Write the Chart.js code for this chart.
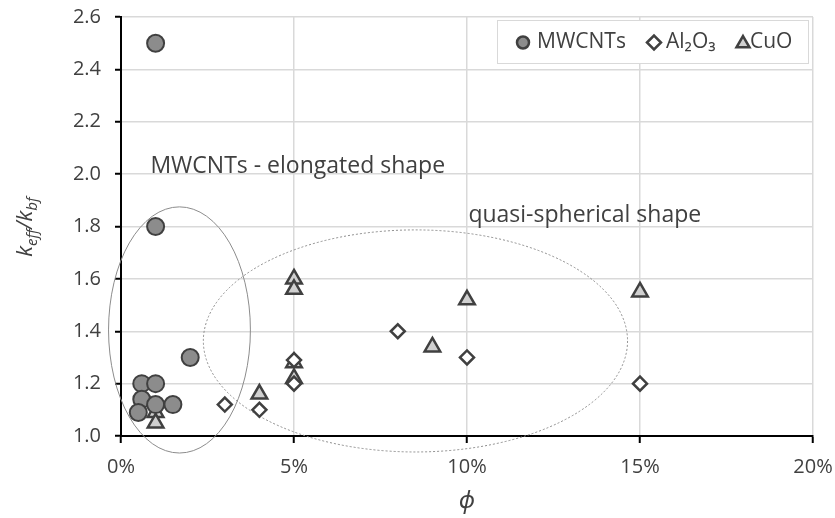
<!DOCTYPE html>
<html>
<head>
<meta charset="utf-8">
<script src="https://cdn.jsdelivr.net/npm/chart.js@4.4.1/dist/chart.umd.min.js"></script>
<style>
  html, body { margin: 0; padding: 0; background: #ffffff; }
  #wrap { width: 835px; height: 518px; position: relative; }
</style>
</head>
<body>
<div id="wrap"><canvas id="c" width="835" height="518"></canvas></div>
<script>
// Volume fraction (%) and conductivity ratio for each nanofluid
const mwcntPhi   = [1, 1, 2, 0.6, 1, 0.6, 1, 1.5, 0.5];
const mwcntRatio = [2.5, 1.8, 1.3, 1.2, 1.2, 1.14, 1.12, 1.12, 1.09];

const aluminaPhi   = [3, 4, 5, 5, 8, 10, 15];
const aluminaRatio = [1.12, 1.1, 1.29, 1.2, 1.4, 1.3, 1.2];

const cuoPhi   = [1, 1, 4, 5, 5, 5, 5, 9, 10, 15];
const cuoRatio = [1.09, 1.05, 1.16, 1.6, 1.56, 1.28, 1.22, 1.34, 1.52, 1.55];

const xTicks = [0, 5, 10, 15, 20];
const yTicks = [1.0, 1.2, 1.4, 1.6, 1.8, 2.0, 2.2, 2.4, 2.6];

const seriesNames = ['MWCNTs', 'Al₂O₃', 'CuO'];

const FONT = '"Open Sans", "Noto Sans", sans-serif';
const TEXT = '#404040';
const EDGE = '#404040';

const toPoints = (xs, ys) => xs.map((x, i) => ({ x: x, y: ys[i] }));

// Grouping outlines and their captions, in data units
const groupOutlines = [
  { cx: 1.69, cy: 1.405, rx: 2.05, ry: 0.47, dash: [], color: '#8c8c8c' },
  { cx: 8.51, cy: 1.363, rx: 6.13, ry: 0.424, dash: [2, 2], color: '#8c8c8c' }
];
const groupCaptions = [
  { x: 0.85, y: 2.004, text: 'MWCNTs - elongated shape' },
  { x: 10.04, y: 1.817, text: 'quasi-spherical shape' }
];

// Keep the plot area exactly where the layout padding puts it
const noEdgePadding = s => {
  s.paddingTop = 0; s.paddingBottom = 0; s.paddingLeft = 0; s.paddingRight = 0;
};

const overlayPlugin = {
  id: 'overlay',
  beforeDatasetsDraw(chart) {
    const { ctx, scales: { x, y } } = chart;
    ctx.save();
    groupOutlines.forEach(g => {
      const cx = x.getPixelForValue(g.cx);
      const cy = y.getPixelForValue(g.cy);
      const rx = Math.abs(x.getPixelForValue(g.cx + g.rx) - cx);
      const ry = Math.abs(y.getPixelForValue(g.cy + g.ry) - cy);
      ctx.beginPath();
      ctx.setLineDash(g.dash);
      ctx.strokeStyle = g.color;
      ctx.lineWidth = 1;
      ctx.ellipse(cx, cy, rx, ry, 0, 0, Math.PI * 2);
      ctx.stroke();
    });
    ctx.setLineDash([]);
    ctx.fillStyle = TEXT;
    ctx.font = '23px ' + FONT;
    ctx.textBaseline = 'alphabetic';
    ctx.textAlign = 'left';
    groupCaptions.forEach(c => {
      ctx.fillText(c.text, x.getPixelForValue(c.x), y.getPixelForValue(c.y));
    });
    ctx.restore();
  },
  afterDraw(chart) {
    const { ctx, chartArea } = chart;
    ctx.save();
    // Legend box, top right
    const bx = 497, by = 20, bw = 311, bh = 43;
    ctx.fillStyle = '#ffffff';
    ctx.fillRect(bx, by, bw, bh);
    ctx.strokeStyle = '#d9d9d9';
    ctx.lineWidth = 1;
    ctx.strokeRect(bx + 0.5, by + 0.5, bw, bh);
    const cy = by + bh / 2;
    const items = [
      { mx: 523, tx: 537, r: 6, ds: chart.data.datasets[0] },
      { mx: 654, tx: 666, r: 7, ds: chart.data.datasets[1] },
      { mx: 743, tx: 750, r: 7.5, ds: chart.data.datasets[2] }
    ];
    ctx.font = '21px ' + FONT;
    ctx.textBaseline = 'middle';
    ctx.textAlign = 'left';
    items.forEach(it => {
      ctx.fillStyle = it.ds.backgroundColor;
      ctx.strokeStyle = it.ds.borderColor;
      ctx.lineWidth = 2.5;
      Chart.helpers.drawPoint(ctx, {
        pointStyle: it.ds.pointStyle,
        radius: it.r,
        borderWidth: 2.5,
        rotation: 0
      }, it.mx, it.ds.pointStyle === 'triangle' ? cy + 2 : cy + 1);
      ctx.fillStyle = TEXT;
      ctx.fillText(it.ds.label, it.tx, cy + 1);
    });

    // Axis titles
    ctx.fillStyle = TEXT;
    ctx.textBaseline = 'alphabetic';
    // x title: phi
    ctx.font = 'italic 24px ' + FONT;
    ctx.textAlign = 'center';
    ctx.fillText('ϕ', (chartArea.left + chartArea.right) / 2, 508);
    // y title: k_eff / k_bf, rotated
    ctx.translate(32, 227);
    ctx.rotate(-Math.PI / 2);
    const parts = [
      { t: 'k', sub: false }, { t: 'eff', sub: true },
      { t: '/', sub: false },
      { t: 'k', sub: false }, { t: 'bf', sub: true }
    ];
    const setF = p => { ctx.font = 'italic ' + (p.sub ? '15px ' : '22px ') + FONT; };
    let total = 0;
    parts.forEach(p => { setF(p); total += ctx.measureText(p.t).width; });
    let px = -total / 2;
    ctx.textAlign = 'left';
    parts.forEach(p => {
      setF(p);
      ctx.fillText(p.t, px, p.sub ? 5 : 0);
      px += ctx.measureText(p.t).width;
    });
    ctx.restore();
  }
};

new Chart(document.getElementById('c'), {
  type: 'scatter',
  data: {
    datasets: [
      {
        label: seriesNames[0],
        data: toPoints(mwcntPhi, mwcntRatio),
        pointStyle: 'circle',
        pointRadius: 8.5,
        pointHoverRadius: 8.5,
        backgroundColor: '#8c8c8c',
        borderColor: EDGE,
        borderWidth: 2
      },
      {
        label: seriesNames[1],
        data: toPoints(aluminaPhi, aluminaRatio),
        pointStyle: 'rectRot',
        pointRadius: 7,
        pointHoverRadius: 7,
        backgroundColor: '#ffffff',
        borderColor: EDGE,
        borderWidth: 2.5
      },
      {
        label: seriesNames[2],
        data: toPoints(cuoPhi, cuoRatio),
        pointStyle: 'triangle',
        pointRadius: 9,
        pointHoverRadius: 9,
        backgroundColor: '#d0d0d0',
        borderColor: EDGE,
        borderWidth: 2.5
      }
    ]
  },
  options: {
    responsive: false,
    animation: false,
    events: [],
    layout: { padding: { top: 17, right: 22, left: 0, bottom: 0 } },
    plugins: {
      legend: { display: false },
      tooltip: { enabled: false }
    },
    scales: {
      x: {
        type: 'linear',
        min: 0, max: 20,
        afterBuildTicks: s => { s.ticks = xTicks.map(v => ({ value: v })); },
        afterFit: s => { s.height = 82; noEdgePadding(s); },
        border: { color: '#000000', width: 2 },
        grid: { color: '#d9d9d9', lineWidth: 1.5, tickColor: '#000000', tickLength: 7, tickWidth: 2 },
        ticks: {
          color: TEXT,
          font: { family: FONT, size: 20 },
          padding: 12,
          callback: v => v + '%'
        }
      },
      y: {
        type: 'linear',
        min: 1.0, max: 2.6,
        afterBuildTicks: s => { s.ticks = yTicks.map(v => ({ value: v })); },
        afterFit: s => { s.width = 121; noEdgePadding(s); },
        border: { color: '#000000', width: 2 },
        grid: { color: '#d9d9d9', lineWidth: 1.5, tickColor: '#000000', tickLength: 6, tickWidth: 2 },
        ticks: {
          color: TEXT,
          font: { family: FONT, size: 20 },
          padding: 14,
          callback: v => v.toFixed(1)
        }
      }
    }
  },
  plugins: [overlayPlugin]
});
</script>
</body>
</html>
